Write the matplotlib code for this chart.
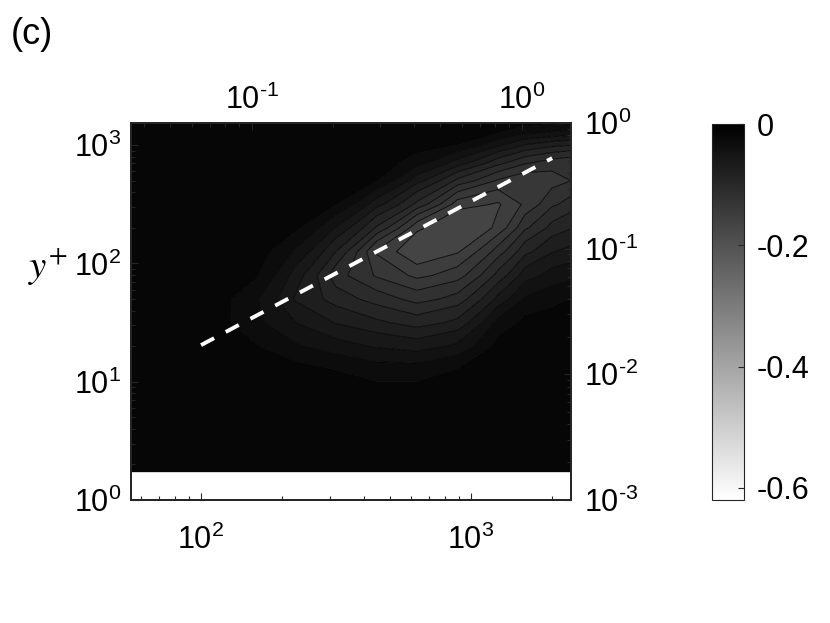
import numpy as np
import matplotlib
matplotlib.use('Agg')
import matplotlib.pyplot as plt
from matplotlib.colors import Normalize
from matplotlib.cm import ScalarMappable
from matplotlib.ticker import LogLocator, NullFormatter, FuncFormatter

plt.rcParams['font.family'] = ['Liberation Sans', 'DejaVu Sans']
plt.rcParams['mathtext.fontset'] = 'custom'
plt.rcParams['mathtext.rm'] = 'Liberation Sans'
plt.rcParams['mathtext.it'] = 'Liberation Sans:italic'
plt.rcParams['mathtext.bf'] = 'Liberation Sans:bold'
plt.rcParams['axes.unicode_minus'] = False

# ---------------- data ----------------
panel_label = "(c)"
x_grid = [55, 79, 112, 158, 224, 316, 447, 631, 891, 1259, 1585, 1995, 2400]
y_grid = [1.72, 4.0, 7.9, 12.6, 20, 31.6, 50, 79, 126, 200, 316, 501, 708, 1000, 1259, 1550]

# field values, one list per x column (bottom -> top in y)
col_55   = [-0.002]*16
col_79   = [-0.002, -0.002, -0.003, -0.003, -0.004, -0.005, -0.005, -0.004, -0.003, -0.002, -0.002, -0.002, -0.002, -0.002, -0.002, -0.002]
col_112  = [-0.002, -0.003, -0.004, -0.005, -0.006, -0.008, -0.0075, -0.005, -0.004, -0.003, -0.002, -0.002, -0.002, -0.002, -0.002, -0.002]
col_158  = [-0.002, -0.003, -0.004, -0.006, -0.0135, -0.026, -0.027, -0.012, -0.006, -0.003, -0.002, -0.002, -0.002, -0.002, -0.002, -0.002]
col_224  = [-0.002, -0.003, -0.004, -0.009, -0.028, -0.045, -0.062, -0.052, -0.032, -0.011, -0.005, -0.002, -0.002, -0.002, -0.002, -0.002]
col_316  = [-0.002, -0.003, -0.007, -0.015, -0.039, -0.061, -0.082, -0.099, -0.075, -0.046, -0.014, -0.006, -0.004, -0.002, -0.002, -0.002]
col_447  = [-0.002, -0.003, -0.008, -0.023, -0.047, -0.072, -0.097, -0.122, -0.137, -0.092, -0.054, -0.0135, -0.006, -0.003, -0.002, -0.002]
col_631  = [-0.002, -0.003, -0.008, -0.023, -0.052, -0.082, -0.111, -0.139, -0.166, -0.146, -0.094, -0.054, -0.023, -0.007, -0.004, -0.002]
col_891  = [-0.002, -0.003, -0.006, -0.014, -0.042, -0.071, -0.099, -0.127, -0.152, -0.169, -0.143, -0.094, -0.052, -0.015, -0.006, -0.003]
col_1259 = [-0.002, -0.002, -0.003, -0.005, -0.009, -0.025, -0.056, -0.085, -0.113, -0.146, -0.152, -0.122, -0.085, -0.042, -0.015, -0.0075]
col_1585 = [-0.002, -0.002, -0.002, -0.003, -0.005, -0.010, -0.028, -0.052, -0.080, -0.108, -0.132, -0.132, -0.103, -0.061, -0.028, -0.009]
col_1995 = [-0.002, -0.002, -0.002, -0.003, -0.004, -0.0075, -0.020, -0.039, -0.061, -0.085, -0.108, -0.127, -0.113, -0.071, -0.033, -0.011]
col_2400 = [-0.002, -0.002, -0.002, -0.002, -0.004, -0.006, -0.013, -0.034, -0.055, -0.075, -0.097, -0.119, -0.118, -0.075, -0.038, -0.012]

# contour lines and the colour value of each filled band (band below each line)
contour_levels = [-0.15, -0.135, -0.12, -0.105, -0.09, -0.075, -0.06, -0.045, -0.03, -0.015]
band_values = [-0.165, -0.15, -0.135, -0.12, -0.105, -0.09, -0.075, -0.06, -0.045, -0.03, -0.015]
fill_bounds = [-0.3] + contour_levels + [0.0]

line_x = [100, 2000]
line_y = [20.4, 777]

cbar_ticks = [0, -0.2, -0.4, -0.6]
cbar_labels = ['0', '-0.2', '-0.4', '-0.6']
cbar_range = [-0.62, 0.0]

x_limits = [55, 2350]
y_limits = [1, 1540]
right_limits = [1e-3, 1]
outer_scale = 1540.0
top_limits = [x_limits[0] / outer_scale, x_limits[1] / outer_scale]

# ---------------- figure ----------------
fig = plt.figure(figsize=(8.3, 6.23), dpi=100)
ax = fig.add_axes([0.1578, 0.1974, 0.5302, 0.6052])

Z = np.array([col_55, col_79, col_112, col_158, col_224, col_316, col_447, col_631,
              col_891, col_1259, col_1585, col_1995, col_2400]).T
X, Y = np.meshgrid(x_grid, y_grid)

norm = Normalize(vmin=cbar_range[0], vmax=cbar_range[1])
cmap = plt.get_cmap('gray_r')
fill_colors = [cmap(norm(b)) for b in band_values]

ax.contourf(X, Y, Z, levels=fill_bounds, colors=fill_colors, antialiased=True)
ax.contour(X, Y, Z, levels=contour_levels, colors='k', linewidths=0.6,
           linestyles='solid')
ax.plot(line_x, line_y, color='white', lw=2.8, dashes=(3.8, 3.4), solid_capstyle='butt')

ax.set_xscale('log')
ax.set_yscale('log')
ax.set_xlim(x_limits)
ax.set_ylim(y_limits)

axis_col = (0.15, 0.15, 0.15)
tick_fs = 22

def sci(v, pos):
    e = int(round(np.log10(v)))
    if e < 0:
        return r'$\mathdefault{10^{\text{-}%d}}$' % (-e)
    return r'$\mathdefault{10^{%d}}$' % e

def style_log_axis(axis_obj):
    axis_obj.set_major_locator(LogLocator(base=10, numticks=12))
    axis_obj.set_minor_locator(LogLocator(base=10, subs=np.arange(2, 10), numticks=12))
    axis_obj.set_major_formatter(FuncFormatter(sci))
    axis_obj.set_minor_formatter(NullFormatter())

style_log_axis(ax.xaxis)
style_log_axis(ax.yaxis)
ax.tick_params(which='both', direction='in', top=False, right=False,
               labelsize=tick_fs, color=axis_col, labelcolor='black')
ax.tick_params(which='major', length=5, width=0.8)
ax.tick_params(which='minor', length=3, width=0.8)
ax.tick_params(axis='x', which='major', pad=18)
ax.tick_params(axis='y', which='major', pad=7)

axR = ax.twinx()
axR.set_yscale('log')
axR.set_ylim(right_limits)
style_log_axis(axR.yaxis)
axR.tick_params(which='both', direction='in', labelsize=tick_fs, color=axis_col)
axR.tick_params(which='major', length=5, width=0.8, pad=9)
axR.tick_params(which='minor', length=3, width=0.8)

axT = ax.twiny()
axT.set_xscale('log')
axT.set_xlim(top_limits)
style_log_axis(axT.xaxis)
axT.tick_params(which='both', direction='in', labelsize=tick_fs, color=axis_col)
axT.tick_params(which='major', length=5, width=0.8, pad=5)
axT.tick_params(which='minor', length=3, width=0.8)

for a in (ax, axR, axT):
    for s in a.spines.values():
        s.set_color(axis_col)
        s.set_linewidth(1.3)

fig.text(0.058, 0.572, r'$y^{+}$', fontsize=28, math_fontfamily='stix',
         ha='center', va='center')
fig.text(0.013, 0.945, panel_label, fontsize=26, ha='left', va='center')

# colorbar
cax = fig.add_axes([0.8578, 0.1974, 0.0386, 0.6035])
sm = ScalarMappable(norm=norm, cmap=cmap)
cb = fig.colorbar(sm, cax=cax, ticks=cbar_ticks)
cb.ax.set_yticklabels(cbar_labels)
cb.ax.tick_params(direction='in', length=4, width=0.8, labelsize=tick_fs,
                  color=axis_col, pad=9)
cb.outline.set_edgecolor(axis_col)
cb.outline.set_linewidth(0.8)

fig.savefig('out.png', dpi=100)
